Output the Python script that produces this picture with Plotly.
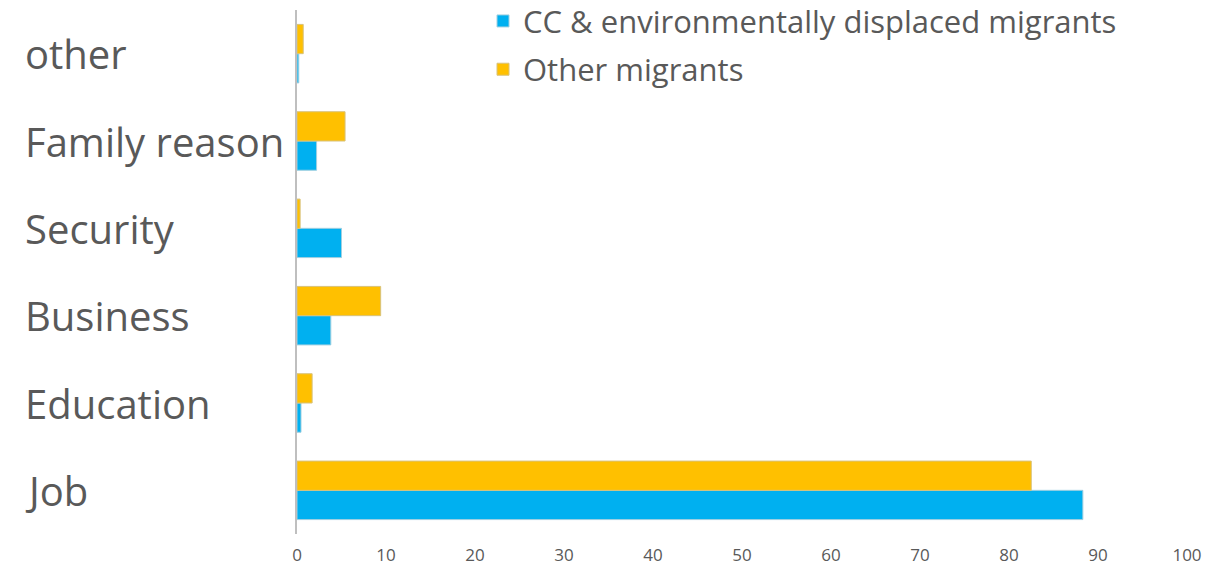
import plotly.graph_objects as go

# Reasons for migration (share of respondents, %)
categories = ["Job", "Education", "Business", "Security", "Family reason", "other"]
cc_env_migrants = [88.3, 0.45, 3.8, 5.0, 2.2, 0.2]
other_migrants = [82.5, 1.7, 9.4, 0.35, 5.4, 0.7]
x_ticks = [0, 10, 20, 30, 40, 50, 60, 70, 80, 90, 100]

BLUE = "#00B0F0"
ORANGE = "#FFC000"
TEXT = "#595959"

fig = go.Figure()
fig.add_trace(go.Bar(
    y=categories, x=cc_env_migrants, orientation="h",
    name="CC & environmentally displaced migrants", legendgroup="a",
    marker=dict(color=BLUE, line=dict(color="#9fcfe0", width=1)),
))
fig.add_trace(go.Bar(
    y=categories, x=other_migrants, orientation="h",
    name="Other migrants", legendgroup="b",
    marker=dict(color=ORANGE, line=dict(color="#d8c27a", width=1)),
))

# Left-aligned category labels
for c in categories:
    fig.add_annotation(
        x=0, xref="paper", xshift=-274, y=c, yref="y",
        text=c, showarrow=False, xanchor="left", yanchor="middle",
        font=dict(family="Open Sans", size=40, color=TEXT),
    )

fig.update_layout(
    width=1207, height=568,
    margin=dict(l=297, r=20, t=10, b=34, autoexpand=False),
    paper_bgcolor="white", plot_bgcolor="white",
    barmode="group", bargap=0.33, bargroupgap=0,
    showlegend=True,
    legend=dict(
        x=0.209, xanchor="left",
        yref="paper", y=1.03, yanchor="top",
        font=dict(family="Open Sans", size=31, color=TEXT),
        traceorder="grouped", itemwidth=30, tracegroupgap=5,
        bgcolor="rgba(0,0,0,0)",
    ),
    xaxis=dict(
        range=[0, 100], tickvals=x_ticks, showgrid=False, zeroline=False,
        showline=False, ticks="", ticklabelstandoff=9,
        tickfont=dict(family="Open Sans", size=17, color=TEXT),
    ),
    yaxis=dict(
        categoryorder="array", categoryarray=categories,
        showticklabels=False, showgrid=False, zeroline=False,
        showline=True, linecolor="#BFBFBF", linewidth=2, ticks="",
    ),
)

fig.write_html("out.html")
